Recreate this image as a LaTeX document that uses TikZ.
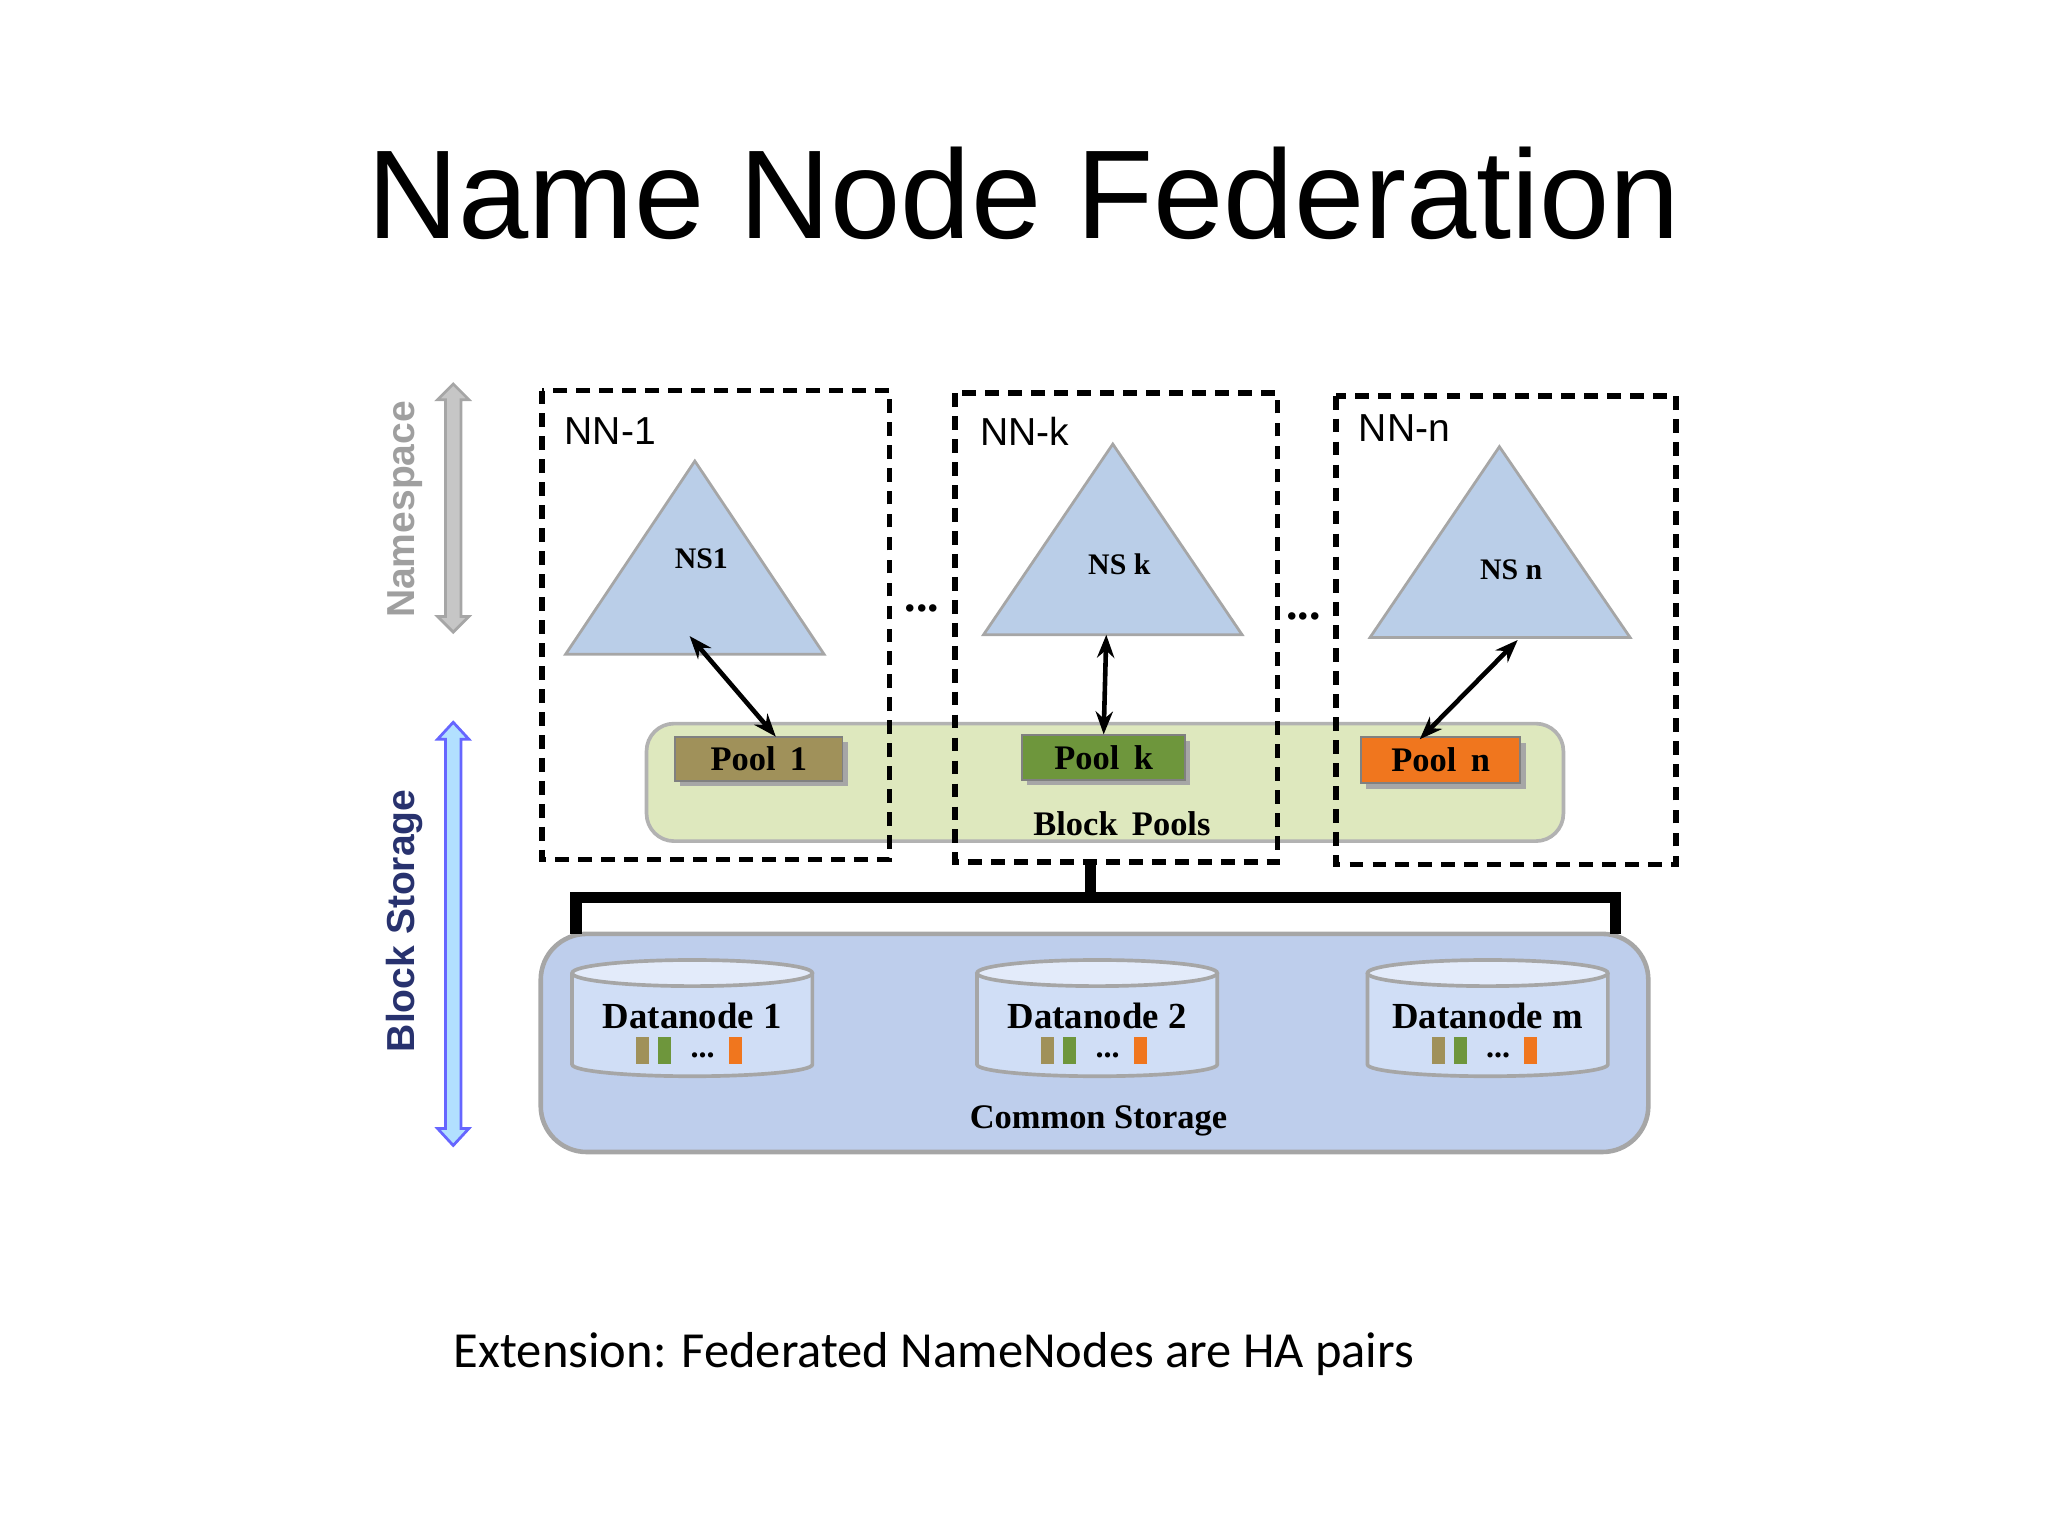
\documentclass[tikz,border=0pt]{standalone}
\usepackage{fontspec}
\setmainfont{Liberation Serif}
\setsansfont{Liberation Sans}
\newfontfamily\calib{Carlito}
\usetikzlibrary{arrows.meta,shapes.geometric}
\definecolor{tri}{RGB}{186,206,232}
\definecolor{pools}{RGB}{222,232,190}
\definecolor{poolA}{RGB}{160,145,90}
\definecolor{poolB}{RGB}{110,150,60}
\definecolor{poolC}{RGB}{240,118,30}
\definecolor{store}{RGB}{190,206,236}
\definecolor{cyl}{RGB}{208,222,246}
\definecolor{dblue}{RGB}{40,50,110}
\tikzset{
 nnbox/.style={draw,line width=1.2pt,dash pattern=on 3pt off 2pt},
 nstri/.style={fill=tri,draw=gray!70,line width=0.6pt},
 lbl/.style={font=\sffamily\fontsize{8.5}{9}\selectfont,anchor=west},
 ser/.style={font=\bfseries\fontsize{6.5}{8}\selectfont},
 poolbox/.style={draw=black!50,minimum height=0.34cm,inner sep=0pt,font=\bfseries\fontsize{7.5}{9}\selectfont},
 dbl/.style={{Stealth[length=5pt]}-{Stealth[length=5pt]},line width=1pt},
}
\begin{document}
\begin{tikzpicture}[x=0.01cm,y=-0.01cm]
\useasboundingbox (0,0) rectangle (1568,1176);
\node[font=\sffamily\fontsize{27.5}{32}\selectfont] (title) at (784,148) {Name Node Federation};
% side arrows
\filldraw[fill=gray!45,draw=gray!70,line width=0.6pt] (341,306) -- (335,306) -- (347,294) -- (359,306) -- (353,306) -- (353,472) -- (359,472) -- (347,484) -- (335,472) -- (341,472) -- cycle;
\filldraw[fill=blue!40!cyan!30,draw=blue!60,line width=0.6pt] (341,566) -- (335,566) -- (347,553) -- (359,566) -- (353,566) -- (353,864) -- (359,864) -- (347,877) -- (335,864) -- (341,864) -- cycle;
\node[rotate=90,font=\sffamily\bfseries\fontsize{8.5}{10}\selectfont,text=gray!75] (nsl) at (310,390) {Namespace};
\node[rotate=90,font=\sffamily\bfseries\fontsize{8.5}{10}\selectfont,text=dblue] (bsl) at (310,705) {Block Storage};
% block pools
\filldraw[draw=gray!60,fill=pools,rounded corners=6pt,line width=0.8pt] (495,554) rectangle (1197,644);
\node[font=\bfseries\fontsize{7.5}{9}\selectfont] (bpl) at (859,631) {Block\, Pools};
% NN boxes
\draw[nnbox] (415,299) rectangle (681,658);
\draw[nnbox] (731,301) rectangle (978,660);
\draw[nnbox] (1023,303) rectangle (1283,662);
\node[lbl] (l1) at (420,330) {NN-1};
\node[lbl] (lk) at (738,330) {NN-k};
\node[lbl] (ln) at (1028,328) {NN-n};
\node[font=\bfseries] (d1) at (706,466) {...};
\node[font=\bfseries] (d2) at (998,472) {...};
% triangles
\filldraw[nstri] (532,353) -- (631,501) -- (433,501) -- cycle;
\filldraw[nstri] (852,340) -- (951,486) -- (753,486) -- cycle;
\filldraw[nstri] (1148,342) -- (1248,488) -- (1049,488) -- cycle;
\node[ser] (ns1) at (537,428) {NS1};
\node[ser] (nsk) at (857,432) {NS k};
\node[ser] (nsn) at (1157,436) {NS n};
\coordinate (a1) at (528,487); \coordinate (ak) at (847,486); \coordinate (an) at (1162,490);
% pools
\fill[black!35] (521,568) rectangle (649,602);
\fill[black!35] (786,567) rectangle (911,601);
\fill[black!35] (1046,569) rectangle (1168,604);
\node[poolbox,fill=poolA,minimum width=1.28cm] (p1) at (581,581) {Pool\, 1};
\node[poolbox,fill=poolB,minimum width=1.25cm] (pk) at (845,580) {Pool\, k};
\node[poolbox,fill=poolC,minimum width=1.22cm,minimum height=0.35cm] (pn) at (1103,582) {Pool\, n};
\draw[dbl] (a1) -- (594,564);
\draw[dbl] (ak) -- (pk.north);
\draw[dbl] (an) -- (1087,566);
% common storage
\filldraw[draw=gray!70,fill=store,rounded corners=10pt,line width=1pt] (414,715) rectangle (1262,882);
\node[font=\bfseries\fontsize{7.5}{9}\selectfont] (cs) at (841,858) {Common Storage};
% bracket
\coordinate (bt) at (835,660);
\draw[line width=2.5pt] (bt) -- (835,687);
\draw[line width=2.5pt] (441,715) -- (441,687) -- (1237,687) -- (1237,715);
% cylinders
\foreach \cx/\nm/\id in {530/1/c1,840/2/c2,1139/m/cm}{
  \filldraw[draw=gray!70,fill=cyl,line width=0.8pt] (\cx-92,745) -- (\cx-92,815) arc[start angle=180,end angle=0,x radius=92,y radius=9] -- (\cx+92,745);
  \filldraw[draw=gray!70,fill=cyl!60!white,line width=0.8pt] (\cx,745) ellipse[x radius=92,y radius=10];
  \node[font=\bfseries\fontsize{8}{9}\selectfont] (\id) at (\cx,778) {Datanode \nm};
  \fill[poolA] (\cx-43,794) rectangle (\cx-33,815);
  \fill[poolB] (\cx-26,794) rectangle (\cx-16,815);
  \node[font=\bfseries\fontsize{7}{8}\selectfont,inner sep=0pt] at (\cx+8,808) {...};
  \fill[poolC] (\cx+28,794) rectangle (\cx+38,815);
}
\node[font=\calib\fontsize{11}{12}\selectfont,anchor=west] (foot) at (335,1037) {Extension: Federated NameNodes are HA pairs};
\end{tikzpicture}
\end{document}
